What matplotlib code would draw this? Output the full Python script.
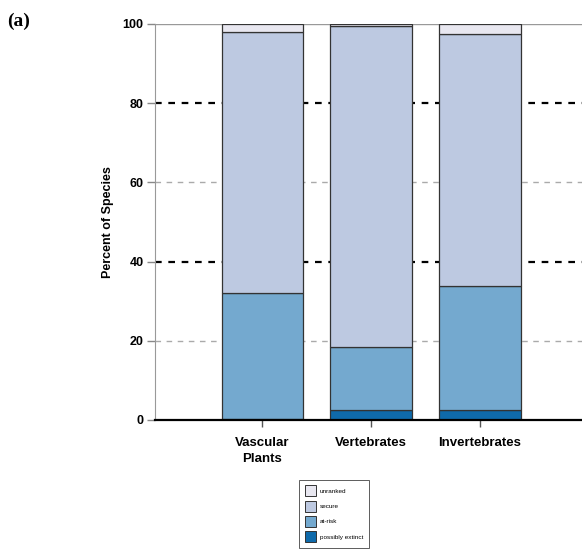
import matplotlib.pyplot as plt
import numpy as np

# Data (percent of species)
groups = ['Vascular\nPlants', 'Vertebrates', 'Invertebrates']
possibly_extinct = [0.3, 2.5, 2.5]
at_risk = [31.7, 16.0, 31.3]
secure = [66.0, 81.0, 63.7]
unranked = [2.0, 0.5, 2.5]

status_labels = ['unranked', 'secure', 'at-risk', 'possibly extinct']
colors = ['#E8E7F0', '#BDC9E1', '#74A9CF', '#0F6AAA']

plt.rcParams['font.family'] = ['Liberation Sans Narrow', 'Liberation Sans', 'DejaVu Sans']

fig = plt.figure(figsize=(5.82, 5.57), dpi=100)
ax = fig.add_axes([0.266, 0.246, 0.74, 0.711])

x = np.arange(len(groups))
width = 0.75

# grid lines
ax.axhline(80, color='black', lw=1.6, ls=(0, (3, 3)), zorder=0)
ax.axhline(40, color='black', lw=1.6, ls=(0, (3, 3)), zorder=0)
ax.axhline(60, color='#aaaaaa', lw=1.0, ls=(0, (4, 4)), zorder=0)
ax.axhline(20, color='#aaaaaa', lw=1.0, ls=(0, (4, 4)), zorder=0)
ax.axhline(100, color='#999999', lw=1.0, zorder=0)

bottom = np.zeros(len(groups))
layers = [possibly_extinct, at_risk, secure, unranked]
layer_colors = colors[::-1]
for vals, c in zip(layers, layer_colors):
    ax.bar(x, vals, width, bottom=bottom, color=c, edgecolor='#333333', linewidth=0.9, zorder=2)
    bottom += np.array(vals)

ax.set_xlim(-0.99, 2.97)
ax.set_ylim(0, 100)
ax.set_yticks([0, 20, 40, 60, 80, 100])
ax.set_xticks(x)
ax.set_xticklabels(groups, fontsize=9.5, fontweight='bold', linespacing=1.5)
for lbl in ax.get_yticklabels():
    lbl.set_fontsize(9)
    lbl.set_fontweight('bold')
ax.tick_params(axis='y', length=6, width=1, color='#888888', pad=2)
ax.tick_params(axis='x', length=5, width=1, color='#555555', pad=7)
ax.set_ylabel('Percent of Species', fontsize=9, fontweight='bold', labelpad=6)

for s in ['top', 'right']:
    ax.spines[s].set_visible(False)
ax.spines['left'].set_color('#999999')
ax.spines['bottom'].set_color('black')
ax.spines['bottom'].set_linewidth(1.6)

# legend
handles = [plt.Rectangle((0, 0), 1, 1, facecolor=c, edgecolor='#333333', linewidth=0.7) for c in colors]
leg = fig.legend(handles, status_labels, loc='upper left', bbox_to_anchor=(0.514, 0.139),
                 fontsize=4.6, frameon=True, fancybox=False, edgecolor='#333333',
                 handlelength=1.8, handleheight=2.3, labelspacing=0.65, borderpad=0.9,
                 borderaxespad=0, handletextpad=0.5)
leg.get_frame().set_linewidth(0.7)

fig.text(0.013, 0.977, '(a)', fontsize=14, fontweight='bold', family='Liberation Serif', va='top')

fig.savefig('out.png', dpi=100)
